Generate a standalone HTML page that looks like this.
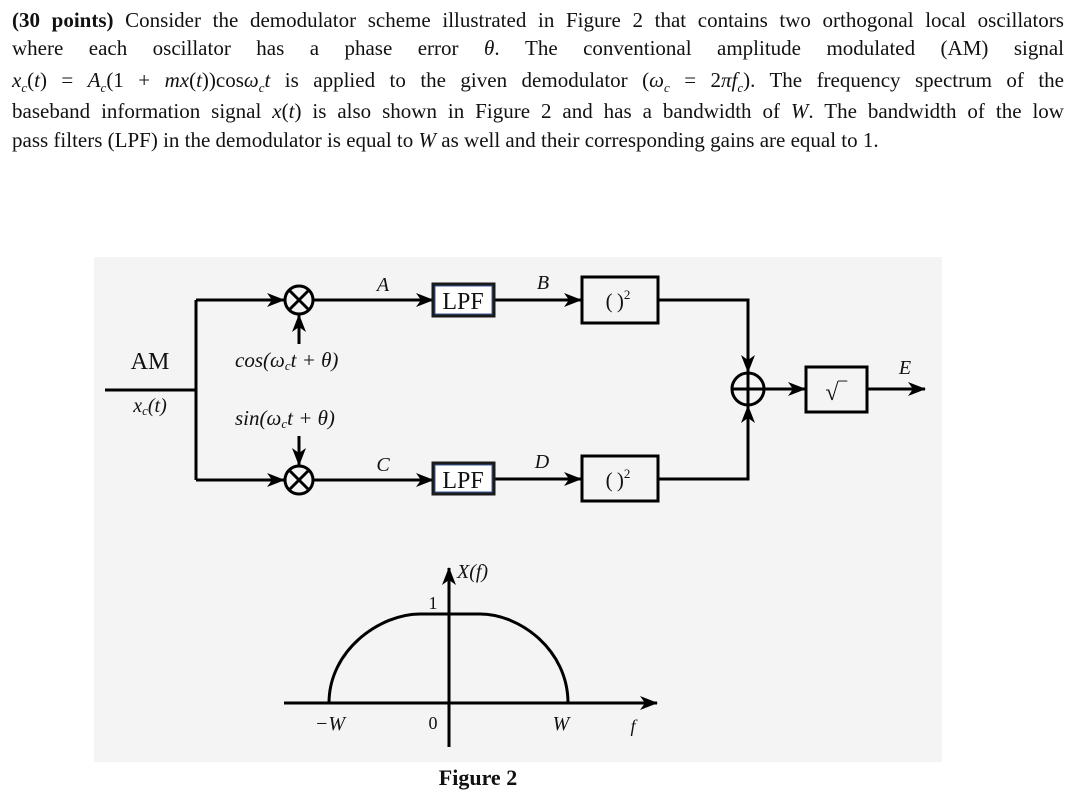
<!DOCTYPE html>
<html><head><meta charset="utf-8"><style>
html,body{margin:0;padding:0;background:#fff;width:1078px;height:793px;overflow:hidden;position:relative}
.l{position:absolute;left:12px;width:1052px;font-family:"Liberation Serif",serif;font-size:21px;line-height:24px;color:#111;text-align:justify;text-align-last:justify;white-space:nowrap}
.l.last{text-align-last:left}
i{font-style:italic}
svg{position:absolute;left:0;top:0}
svg text{font-family:"Liberation Serif",serif}
</style></head><body>
<div class="l" style="top:8px"><b>(30 points)</b> Consider the demodulator scheme illustrated in Figure 2 that contains two orthogonal local oscillators</div>
<div class="l" style="top:36px">where each oscillator has a phase error <i>θ</i>. The conventional amplitude modulated (AM) signal</div>
<div class="l" style="top:68px"><i>x<sub style="font-size:13px">c</sub></i>(<i>t</i>) = <i>A<sub style="font-size:13px">c</sub></i>(1 + <i>mx</i>(<i>t</i>))cos<i>ω<sub style="font-size:13px">c</sub>t</i> is applied to the given demodulator (<i>ω<sub style="font-size:13px">c</sub></i> = 2<i>πf<sub style="font-size:13px">c</sub></i>). The frequency spectrum of the</div>
<div class="l" style="top:99px">baseband information signal <i>x</i>(<i>t</i>) is also shown in Figure 2 and has a bandwidth of <i>W</i>. The bandwidth of the low</div>
<div class="l last" style="top:128px">pass filters (LPF) in the demodulator is equal to <i>W</i> as well and their corresponding gains are equal to 1.</div>
<svg width="1078" height="793" viewBox="0 0 1078 793">
<defs><marker id="b" markerWidth="18" markerHeight="14" refX="17" refY="7" orient="auto" markerUnits="userSpaceOnUse"><path d="M0,0 L18,7 L0,14 L5,7z" fill="#000"/></marker></defs>
<rect x="94" y="257" width="848" height="505" fill="#f4f4f4"/>
<g stroke="#000" stroke-width="3" fill="none">
<path d="M105,390 H196"/>
<path d="M196,300 V480"/>
<path d="M196,300 H284" marker-end="url(#b)"/>
<path d="M196,480 H284" marker-end="url(#b)"/>
<circle cx="299" cy="300" r="14"/><path d="M289,290 L309,310 M309,290 L289,310"/>
<circle cx="299" cy="480" r="14"/><path d="M289,470 L309,490 M309,470 L289,490"/>
<path d="M299,344 V315" marker-end="url(#b)"/>
<path d="M299,436 V465" marker-end="url(#b)"/>
<path d="M313,300 H433" marker-end="url(#b)"/>
<path d="M313,480 H433" marker-end="url(#b)"/>
<path d="M494,300 H581" marker-end="url(#b)"/>
<path d="M494,479 H581" marker-end="url(#b)"/>
<rect x="582" y="277" width="76" height="46"/>
<rect x="582" y="456" width="76" height="45"/>
<path d="M658,300 H748 V372" marker-end="url(#b)"/>
<path d="M658,479 H748 V406" marker-end="url(#b)"/>
<circle cx="748" cy="389" r="16"/><path d="M732,389 H764 M748,373 V405"/>
<path d="M764,389 H805" marker-end="url(#b)"/>
<rect x="806" y="367" width="61" height="45"/>
<path d="M867,389 H925" marker-end="url(#b)"/>
<path d="M284,703 H657" marker-end="url(#b)"/>
<path d="M449,747 V568" marker-end="url(#b)"/>
<path d="M329,703 C329,650 380,614 420,614 H480 C520,614 568,650 568,703"/>
</g>
<rect x="433" y="284" width="61" height="32" fill="#fff" stroke="#1a1a1a" stroke-width="3"/>
<rect x="435" y="286" width="57" height="28" fill="none" stroke="#3a5a9a" stroke-width="1"/>
<rect x="433" y="463" width="61" height="31" fill="#fff" stroke="#1a1a1a" stroke-width="3"/>
<rect x="435" y="465" width="57" height="27" fill="none" stroke="#3a5a9a" stroke-width="1"/>
<g fill="#111">
<text x="463" y="309" font-size="24" text-anchor="middle">LPF</text>
<text x="463" y="488" font-size="24" text-anchor="middle">LPF</text>
<text x="618" y="308" font-size="21" text-anchor="middle">(&#8201;)<tspan font-size="13" dy="-9">2</tspan></text>
<text x="618" y="487" font-size="21" text-anchor="middle">(&#8201;)<tspan font-size="13" dy="-9">2</tspan></text>
<text x="836" y="400" font-size="24" text-anchor="middle">√‾</text>
<text x="150" y="369" font-size="24" text-anchor="middle">AM</text>
<text x="150" y="412" font-size="20" font-style="italic" text-anchor="middle">x<tspan font-size="13" dy="3">c</tspan><tspan dy="-3">(t)</tspan></text>
<text x="235" y="367" font-size="21" font-style="italic">cos(ω<tspan font-size="13" dy="3">c</tspan><tspan dy="-3">t + θ)</tspan></text>
<text x="235" y="425" font-size="21" font-style="italic">sin(ω<tspan font-size="13" dy="3">c</tspan><tspan dy="-3">t + θ)</tspan></text>
<text x="383" y="291" font-size="20" font-style="italic" text-anchor="middle">A</text>
<text x="383" y="471" font-size="20" font-style="italic" text-anchor="middle">C</text>
<text x="543" y="289" font-size="20" font-style="italic" text-anchor="middle">B</text>
<text x="542" y="468" font-size="20" font-style="italic" text-anchor="middle">D</text>
<text x="905" y="374" font-size="20" font-style="italic" text-anchor="middle">E</text>
<text x="457" y="578" font-size="20" font-style="italic">X(f)</text>
<text x="433" y="609" font-size="18" text-anchor="middle">1</text>
<text x="330" y="730" font-size="20" font-style="italic" text-anchor="middle">−W</text>
<text x="433" y="729" font-size="18" text-anchor="middle">0</text>
<text x="561" y="730" font-size="20" font-style="italic" text-anchor="middle">W</text>
<text x="633" y="732" font-size="18" font-style="italic" text-anchor="middle">f</text>
<text x="478" y="785" font-size="22" font-weight="bold" text-anchor="middle">Figure 2</text>
</g>
</svg>
</body></html>
